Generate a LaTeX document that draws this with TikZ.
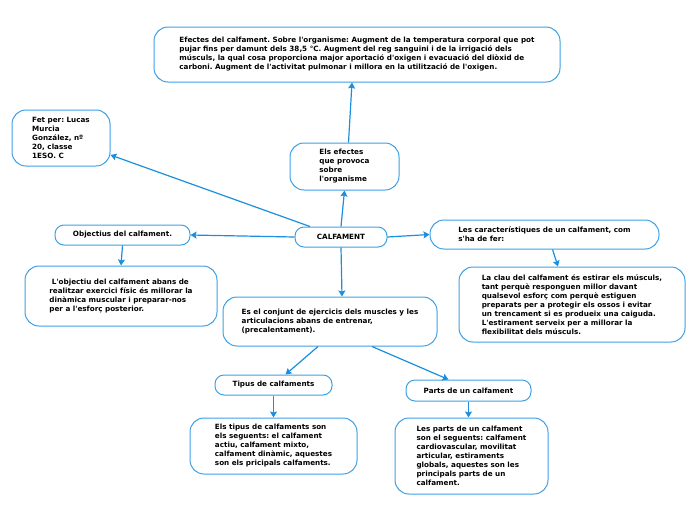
\documentclass[tikz,border=0pt]{standalone}
\usepackage{fontspec}
\setmainfont{DejaVu Sans}[Ligatures=TeXOff]
\usetikzlibrary{arrows.meta}
\definecolor{boxblue}{HTML}{3DA0E6}
\definecolor{linkblue}{HTML}{1B8FDD}
\tikzset{
  box/.style={draw=boxblue, line width=1pt, rounded corners=#1, fill=white,
    inner sep=0pt, align=left, font=\fontsize{7.2}{9}\selectfont\bfseries\frenchspacing, text=black},
  box/.default=14pt,
  link/.style={draw=linkblue, line width=1.2pt, -{Stealth[length=6pt,width=7pt,inset=1pt]}}
}
\begin{document}
\begin{tikzpicture}[x=1pt,y=-1pt]
\useasboundingbox (0,0) rectangle (696,520);
\node[box, minimum width=406pt, minimum height=55pt] (eff) at (357,54.5)
 {Efectes del calfament. Sobre l'organisme: Augment de la temperatura corporal que pot\\
  pujar fins per damunt dels 38,5 °C. Augment del reg sanguini i de la irrigació dels\\
  músculs, la qual cosa proporciona major aportació d'oxigen i evacuació del diòxid de\\
  carboni. Augment de l'activitat pulmonar i millora en la utilització de l'oxigen.};
\node[box, minimum width=98pt, minimum height=56pt] (fet) at (61,138)
 {Fet per: Lucas\\ Murcia\\ González, nº\\ 20, classe\\ 1ESO. C};
\node[box, minimum width=109pt, minimum height=47pt] (efx) at (344.5,166.5)
 {Els efectes\\ que provoca\\ sobre\\ l'organisme};
\node[box=9pt, minimum width=135pt, minimum height=20pt, align=center] (obj) at (122.5,235)
 {Objectius del calfament.};
\node[box=9pt, minimum width=92pt, minimum height=20pt, align=center] (cal) at (341,237)
 {CALFAMENT};
\node[box, minimum width=229pt, minimum height=29pt] (car) at (544.5,234.5)
 {Les característiques de un calfament, com\\ s'ha de fer:};
\node[box, minimum width=192pt, minimum height=60pt] (lobj) at (121,296)
 {\ L'objectiu del calfament abans de\\ realitzar exercici físic és millorar la\\ dinàmica muscular i preparar-nos\\ per a l'esforç posterior.};
\node[box, minimum width=226pt, minimum height=75pt] (clau) at (572,304.5)
 {La clau del calfament és estirar els músculs,\\ tant perquè responguen millor davant\\ qualsevol esforç com perquè estiguen\\ preparats per a protegir els ossos i evitar\\ un trencament si es produeix una caiguda.\\ L'estirament serveix per a millorar la\\ flexibilitat dels músculs.};
\node[box, minimum width=214pt, minimum height=49pt] (conj) at (330,321.5)
 {Es el conjunt de ejercicis dels muscles y les\\ articulacions abans de entrenar,\\ (precalentament).};
\node[box=9pt, minimum width=117pt, minimum height=20pt, align=center] (tip) at (273.5,385)
 {Tipus de calfaments};
\node[box, minimum width=167pt, minimum height=56pt] (tipd) at (273.5,446)
 {Els tipus de calfaments son\\ els seguents: el calfament\\ actiu, calfament mixto,\\ calfament dinàmic, aquestes\\ son els pricipals calfaments.};
\node[box=9pt, minimum width=125pt, minimum height=21pt, align=center] (par) at (468.5,390.5)
 {Parts de un calfament};
\node[box, minimum width=153pt, minimum height=76pt] (pard) at (471.5,456)
 {Les parts de un calfament\\ son el seguents: calfament\\ cardiovascular, movilitat\\ articular, estiraments\\ globals, aquestes son les\\ principals parts de un\\ calfament.};
% connectors
\draw[link] ([xshift=4pt]efx.north) -- ([xshift=-5pt]eff.south);
\draw[link] (cal.north) -- (efx.south);
\draw[link] ([xshift=-31pt]cal.north) -- ([yshift=-17pt]fet.east);
\draw[link] (cal.west) -- (obj.east);
\draw[link] (cal.east) -- (car.west);
\draw[link] (cal.south) -- ([xshift=12pt]conj.north);
\draw[link] (obj.south) -- (lobj.north);
\draw[link] ([xshift=8pt]car.south) -- ([xshift=-14pt]clau.north);
\draw[link] ([xshift=-12pt]conj.south) -- ([xshift=12pt]tip.north);
\draw[link] ([xshift=42pt]conj.south) -- ([xshift=-20pt]par.north);
\draw[link] (tip.south) -- (tipd.north);
\draw[link] (par.south) -- (par.south |- pard.north);
\end{tikzpicture}
\end{document}
